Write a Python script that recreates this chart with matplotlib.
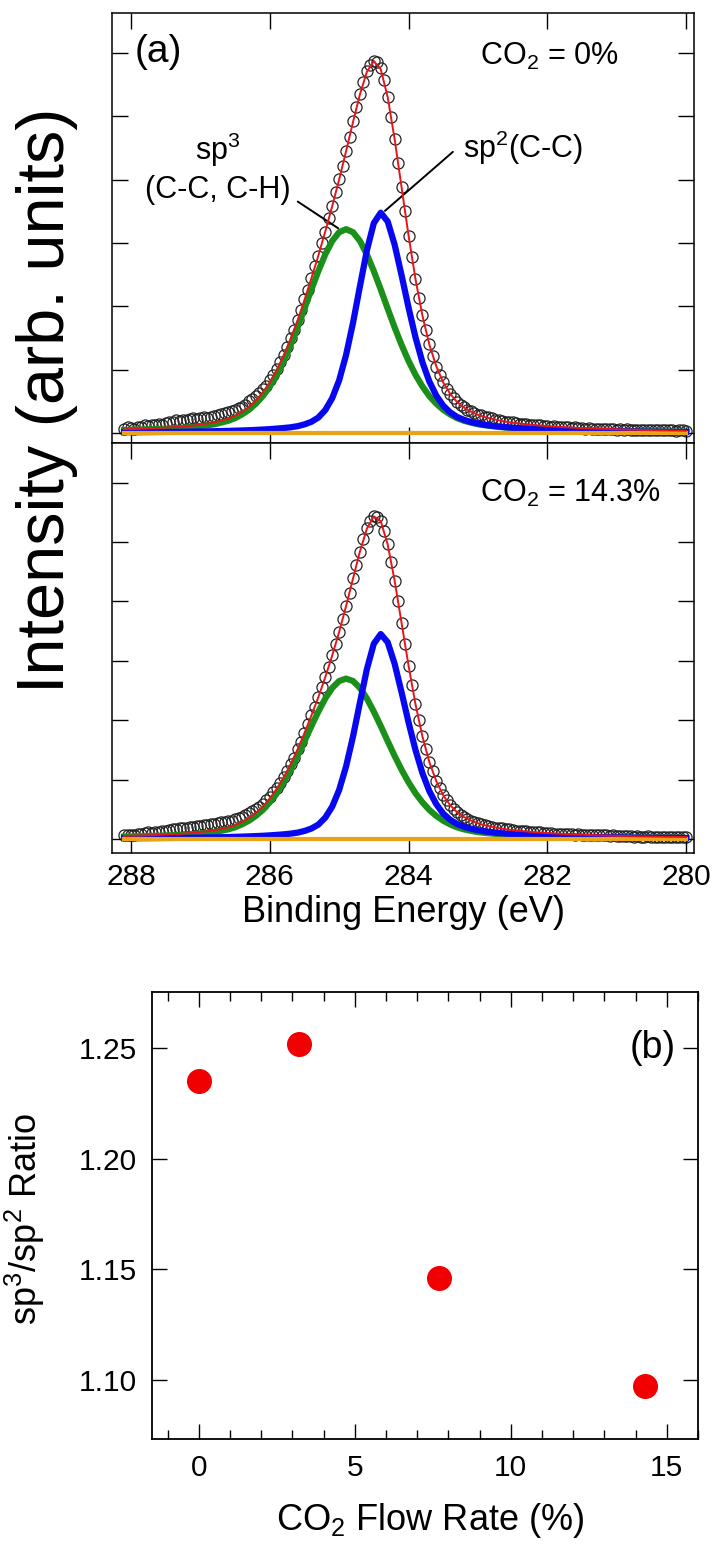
import numpy as np
import matplotlib
matplotlib.use("Agg")
import matplotlib.pyplot as plt
from matplotlib.ticker import MultipleLocator, FormatStrFormatter

plt.rcParams["font.family"] = ["Liberation Sans", "DejaVu Sans"]
plt.rcParams["mathtext.fontset"] = "custom"
plt.rcParams["mathtext.rm"] = "Liberation Sans"
plt.rcParams["mathtext.it"] = "Liberation Sans:italic"
plt.rcParams["mathtext.default"] = "regular"

# grille d'energie du spectre (eV)
energie_mesure = np.linspace(288.1, 280.0, 163)
energie_fit = np.linspace(288.1, 280.0, 82)
energie_fond = [288.1, 280.0]

# --- CO2 = 0 % ---
mesure_0 = [
    .07, .09, .08, .07, .09, .10, .12, .11, .13, .12,
    .14, .13, .16, .17, .18, .20, .19, .21, .20, .22,
    .23, .22, .24, .25, .24, .26, .27, .29, .30, .32,
    .33, .34, .36, .39, .41, .45, .50, .53, .58, .63,
    .69, .75, .84, .92, 1.01, 1.12, 1.23, 1.36, 1.50, 1.63,
    1.79, 1.94, 2.11, 2.26, 2.45, 2.64, 2.80, 3.00, 3.17, 3.40,
    3.58, 3.80, 4.02, 4.22, 4.46, 4.68, 4.93, 5.15, 5.35, 5.55,
    5.72, 5.82, 5.88, 5.86, 5.76, 5.57, 5.31, 4.99, 4.64, 4.27,
    3.88, 3.51, 3.12, 2.78, 2.44, 2.14, 1.86, 1.62, 1.40, 1.21,
    1.05, .92, .80, .70, .62, .55, .49, .44, .41, .37,
    .34, .31, .29, .28, .25, .25, .23, .21, .21, .19,
    .18, .17, .17, .16, .15, .14, .14, .13, .13, .12,
    .12, .11, .11, .10, .11, .10, .09, .09, .09, .08,
    .09, .08, .08, .07, .08, .07, .07, .06, .07, .06,
    .06, .06, .05, .06, .05, .06, .05, .05, .05, .04,
    .05, .05, .04, .05, .04, .04, .05, .04, .04, .03,
    .04, .04, .03,
]
sp3_0 = [
    .047, .049, .053, .056, .060, .064, .069, .074, .080, .086,
    .097, .110, .122, .138, .164, .193, .235, .293, .367, .464,
    .583, .737, .921, 1.140, 1.391, 1.668, 1.964, 2.267, 2.557, 2.821,
    3.033, 3.172, 3.220, 3.172, 3.033, 2.821, 2.557, 2.267, 1.964, 1.668,
    1.391, 1.140, .921, .737, .583, .464, .367, .293, .235, .193,
    .164, .138, .122, .110, .097, .086, .080, .074, .069, .064,
    .060, .056, .053, .049, .047, .044, .041, .039, .037, .035,
    .033, .032, .030, .029, .028, .026, .025, .024, .023, .022,
    .021, .020,
]
sp2_0 = [
    .012, .013, .013, .014, .015, .016, .017, .018, .019, .021,
    .022, .024, .026, .028, .031, .033, .037, .040, .044, .049,
    .055, .061, .070, .079, .090, .108, .136, .177, .244, .362,
    .550, .832, 1.232, 1.740, 2.318, 2.885, 3.316, 3.480, 3.341, 2.975,
    2.492, 1.984, 1.514, 1.121, .814, .592, .432, .327, .254, .209,
    .174, .150, .129, .115, .103, .092, .083, .076, .069, .063,
    .058, .053, .049, .046, .042, .039, .037, .034, .032, .030,
    .028, .027, .025, .024, .023, .022, .020, .019, .018, .017,
    .017, .016,
]
fit_0 = [
    .059, .062, .066, .070, .075, .080, .086, .092, .099, .107,
    .119, .134, .148, .166, .195, .226, .272, .333, .411, .513,
    .638, .798, .991, 1.219, 1.481, 1.776, 2.100, 2.444, 2.801, 3.183,
    3.583, 4.004, 4.452, 4.912, 5.351, 5.706, 5.873, 5.747, 5.305, 4.643,
    3.883, 3.124, 2.435, 1.858, 1.397, 1.056, .799, .620, .489, .402,
    .338, .288, .251, .225, .200, .178, .163, .150, .138, .127,
    .118, .109, .102, .095, .089, .083, .078, .073, .069, .065,
    .061, .059, .055, .053, .051, .048, .045, .043, .041, .039,
    .038, .036,
]
fond_0 = [0.0, 0.0]

# --- CO2 = 14.3 % ---
mesure_14 = [
    .06, .07, .07, .06, .08, .09, .10, .11, .10, .12,
    .12, .13, .14, .15, .17, .16, .18, .19, .19, .21,
    .20, .22, .22, .24, .23, .25, .25, .27, .28, .29,
    .30, .31, .33, .36, .37, .40, .43, .47, .50, .54,
    .59, .65, .71, .79, .86, .95, 1.04, 1.15, 1.26, 1.37,
    1.51, 1.64, 1.79, 1.93, 2.08, 2.23, 2.39, 2.56, 2.72, 2.90,
    3.09, 3.28, 3.49, 3.70, 3.92, 4.15, 4.39, 4.62, 4.84, 5.05,
    5.23, 5.35, 5.44, 5.42, 5.36, 5.18, 4.96, 4.67, 4.35, 4.00,
    3.64, 3.28, 2.92, 2.60, 2.27, 2.00, 1.73, 1.51, 1.30, 1.14,
    .98, .86, .74, .65, .57, .51, .45, .41, .37, .34,
    .31, .29, .27, .25, .23, .22, .21, .19, .18, .18,
    .16, .16, .15, .14, .14, .13, .13, .12, .12, .11,
    .11, .10, .10, .10, .09, .09, .09, .08, .08, .08,
    .07, .08, .07, .07, .07, .06, .06, .07, .06, .06,
    .05, .06, .05, .05, .05, .05, .05, .04, .05, .04,
    .04, .05, .04, .04, .04, .03, .04, .04, .03, .04,
    .03, .04, .03,
]
sp3_14 = [
    .039, .042, .044, .047, .050, .054, .058, .062, .067, .072,
    .081, .092, .103, .116, .138, .162, .197, .246, .308, .389,
    .489, .618, .772, .956, 1.166, 1.399, 1.647, 1.901, 2.144, 2.365,
    2.543, 2.660, 2.700, 2.660, 2.543, 2.365, 2.144, 1.901, 1.647, 1.399,
    1.166, .956, .772, .618, .489, .389, .308, .246, .197, .162,
    .138, .116, .103, .092, .081, .072, .067, .062, .058, .054,
    .050, .047, .044, .042, .039, .037, .035, .033, .031, .030,
    .028, .027, .025, .024, .023, .022, .021, .020, .019, .019,
    .018, .017,
]
sp2_14 = [
    .012, .013, .013, .014, .015, .016, .017, .018, .019, .021,
    .022, .024, .026, .028, .030, .033, .036, .040, .044, .049,
    .054, .061, .069, .078, .090, .107, .135, .176, .242, .359,
    .545, .825, 1.221, 1.725, 2.298, 2.860, 3.288, 3.450, 3.312, 2.950,
    2.470, 1.967, 1.501, 1.111, .807, .587, .428, .324, .252, .207,
    .173, .148, .128, .114, .102, .091, .082, .075, .069, .062,
    .058, .053, .049, .045, .042, .039, .037, .034, .032, .030,
    .028, .027, .025, .024, .022, .021, .020, .019, .018, .018,
    .017, .016,
]
fit_14 = [
    .051, .055, .057, .061, .065, .070, .075, .080, .086, .093,
    .103, .116, .129, .144, .168, .195, .233, .286, .352, .438,
    .543, .679, .841, 1.034, 1.256, 1.506, 1.782, 2.077, 2.386, 2.724,
    3.088, 3.485, 3.921, 4.385, 4.841, 5.225, 5.432, 5.351, 4.959, 4.349,
    3.636, 2.923, 2.273, 1.729, 1.296, .976, .736, .570, .449, .369,
    .311, .264, .231, .206, .183, .163, .149, .137, .127, .116,
    .108, .100, .093, .087, .081, .076, .072, .067, .063, .060,
    .056, .054, .050, .048, .045, .043, .041, .039, .037, .037,
    .035, .033,
]
fond_14 = [0.0, 0.0]

# --- (b) rapport sp3/sp2 ---
debit_co2 = [0.0, 3.2, 7.7, 14.3]
rapport = [1.235, 1.252, 1.146, 1.097]

vert = "#1a901a"
bleu = "#0808f0"
rouge = "#e8141c"
orange = "#e9a317"


def spectre(ax, mesure, sp3, sp2, fit, fond, ylim):
    ax.plot(energie_mesure, mesure, "o", ms=8, mfc="none", mec="#222222",
            mew=0.9, zorder=1)
    ax.plot(energie_fit, sp3, color=vert, lw=4.5, zorder=2)
    ax.plot(energie_fit, sp2, color=bleu, lw=4.5, zorder=3)
    ax.plot(energie_fond, fond, color=orange, lw=3, zorder=4)
    ax.plot(energie_fit, fit, color=rouge, lw=1.4, zorder=5)
    ax.set_xlim(288.274, 279.885)
    ax.set_ylim(*ylim)
    ax.xaxis.set_major_locator(MultipleLocator(2))
    ax.yaxis.set_major_locator(MultipleLocator(1))
    ax.tick_params(direction="in", length=11.5, width=1.0, top=True,
                   right=True, labelleft=False, labelsize=21.5, pad=7)
    for s in ax.spines.values():
        s.set_linewidth(1.1)


fig = plt.figure(figsize=(7.12, 15.46), dpi=100)

ax1 = fig.add_axes([0.1573, 0.71345, 0.8174, 0.27814])
spectre(ax1, mesure_0, sp3_0, sp2_0, fit_0, fond_0, (-0.158, 6.635))
ax1.tick_params(labelbottom=False)
ax1.text(0.0395, 0.909, "(a)", transform=ax1.transAxes, fontsize=28,
         ha="left", va="center")
ax1.text(282.97, 5.81, "CO$_2$ = 0%", fontsize=22, ha="left", va="baseline")
ax1.text(286.75, 4.31, "sp$^3$", fontsize=22, ha="center", va="baseline")
ax1.text(286.75, 3.71, "(C-C, C-H)", fontsize=22, ha="center", va="baseline")
ax1.text(283.21, 4.34, "sp$^2$(C-C)", fontsize=22, ha="left", va="baseline")
ax1.annotate("", xy=(284.98, 3.21), xytext=(285.63, 3.68),
             arrowprops=dict(arrowstyle="-", color="k", lw=1.4))
ax1.annotate("", xy=(284.37, 3.48), xytext=(283.33, 4.47),
             arrowprops=dict(arrowstyle="-", color="k", lw=1.4))

ax2 = fig.add_axes([0.1573, 0.44825, 0.8174, 0.2652])
spectre(ax2, mesure_14, sp3_14, sp2_14, fit_14, fond_14, (-0.236, 6.667))
ax2.text(282.97, 5.67, "CO$_2$ = 14.3%", fontsize=22, ha="left",
         va="baseline")

fig.text(47 / 712, 1 - 400 / 1546, "Intensity (arb. units)", rotation=90,
         fontsize=48, ha="center", va="center")
fig.text(403 / 712, 1 - 913 / 1546, "Binding Energy (eV)", fontsize=26,
         ha="center", va="center")

ax3 = fig.add_axes([0.21348, 0.06921, 0.76685, 0.28914])
ax3.plot(debit_co2, rapport, "o", ms=17, color="#f00000", mec="#f00000")
ax3.set_xlim(-1.5, 16.0)
ax3.set_ylim(1.0732, 1.2755)
ax3.xaxis.set_major_locator(MultipleLocator(5))
ax3.xaxis.set_minor_locator(MultipleLocator(1))
ax3.yaxis.set_major_locator(MultipleLocator(0.05))
ax3.yaxis.set_major_formatter(FormatStrFormatter("%.2f"))
ax3.tick_params(which="both", direction="in", top=True, right=True,
                width=1.0, labelsize=21.5, pad=11)
ax3.tick_params(which="major", length=11)
ax3.tick_params(which="minor", length=6.5)
for s in ax3.spines.values():
    s.set_linewidth(1.3)
ax3.text(0.9176, 0.8747, "(b)", transform=ax3.transAxes, fontsize=27,
         ha="center", va="center")

fig.text(25 / 712, 1 - 1219 / 1546, "sp$^3$/sp$^2$ Ratio", rotation=90,
         fontsize=26, ha="center", va="center")
fig.text(430 / 712, 1 - 1521 / 1546, "CO$_2$ Flow Rate (%)", fontsize=26,
         ha="center", va="center")

plt.savefig("out.png", dpi=100)
plt.close()
